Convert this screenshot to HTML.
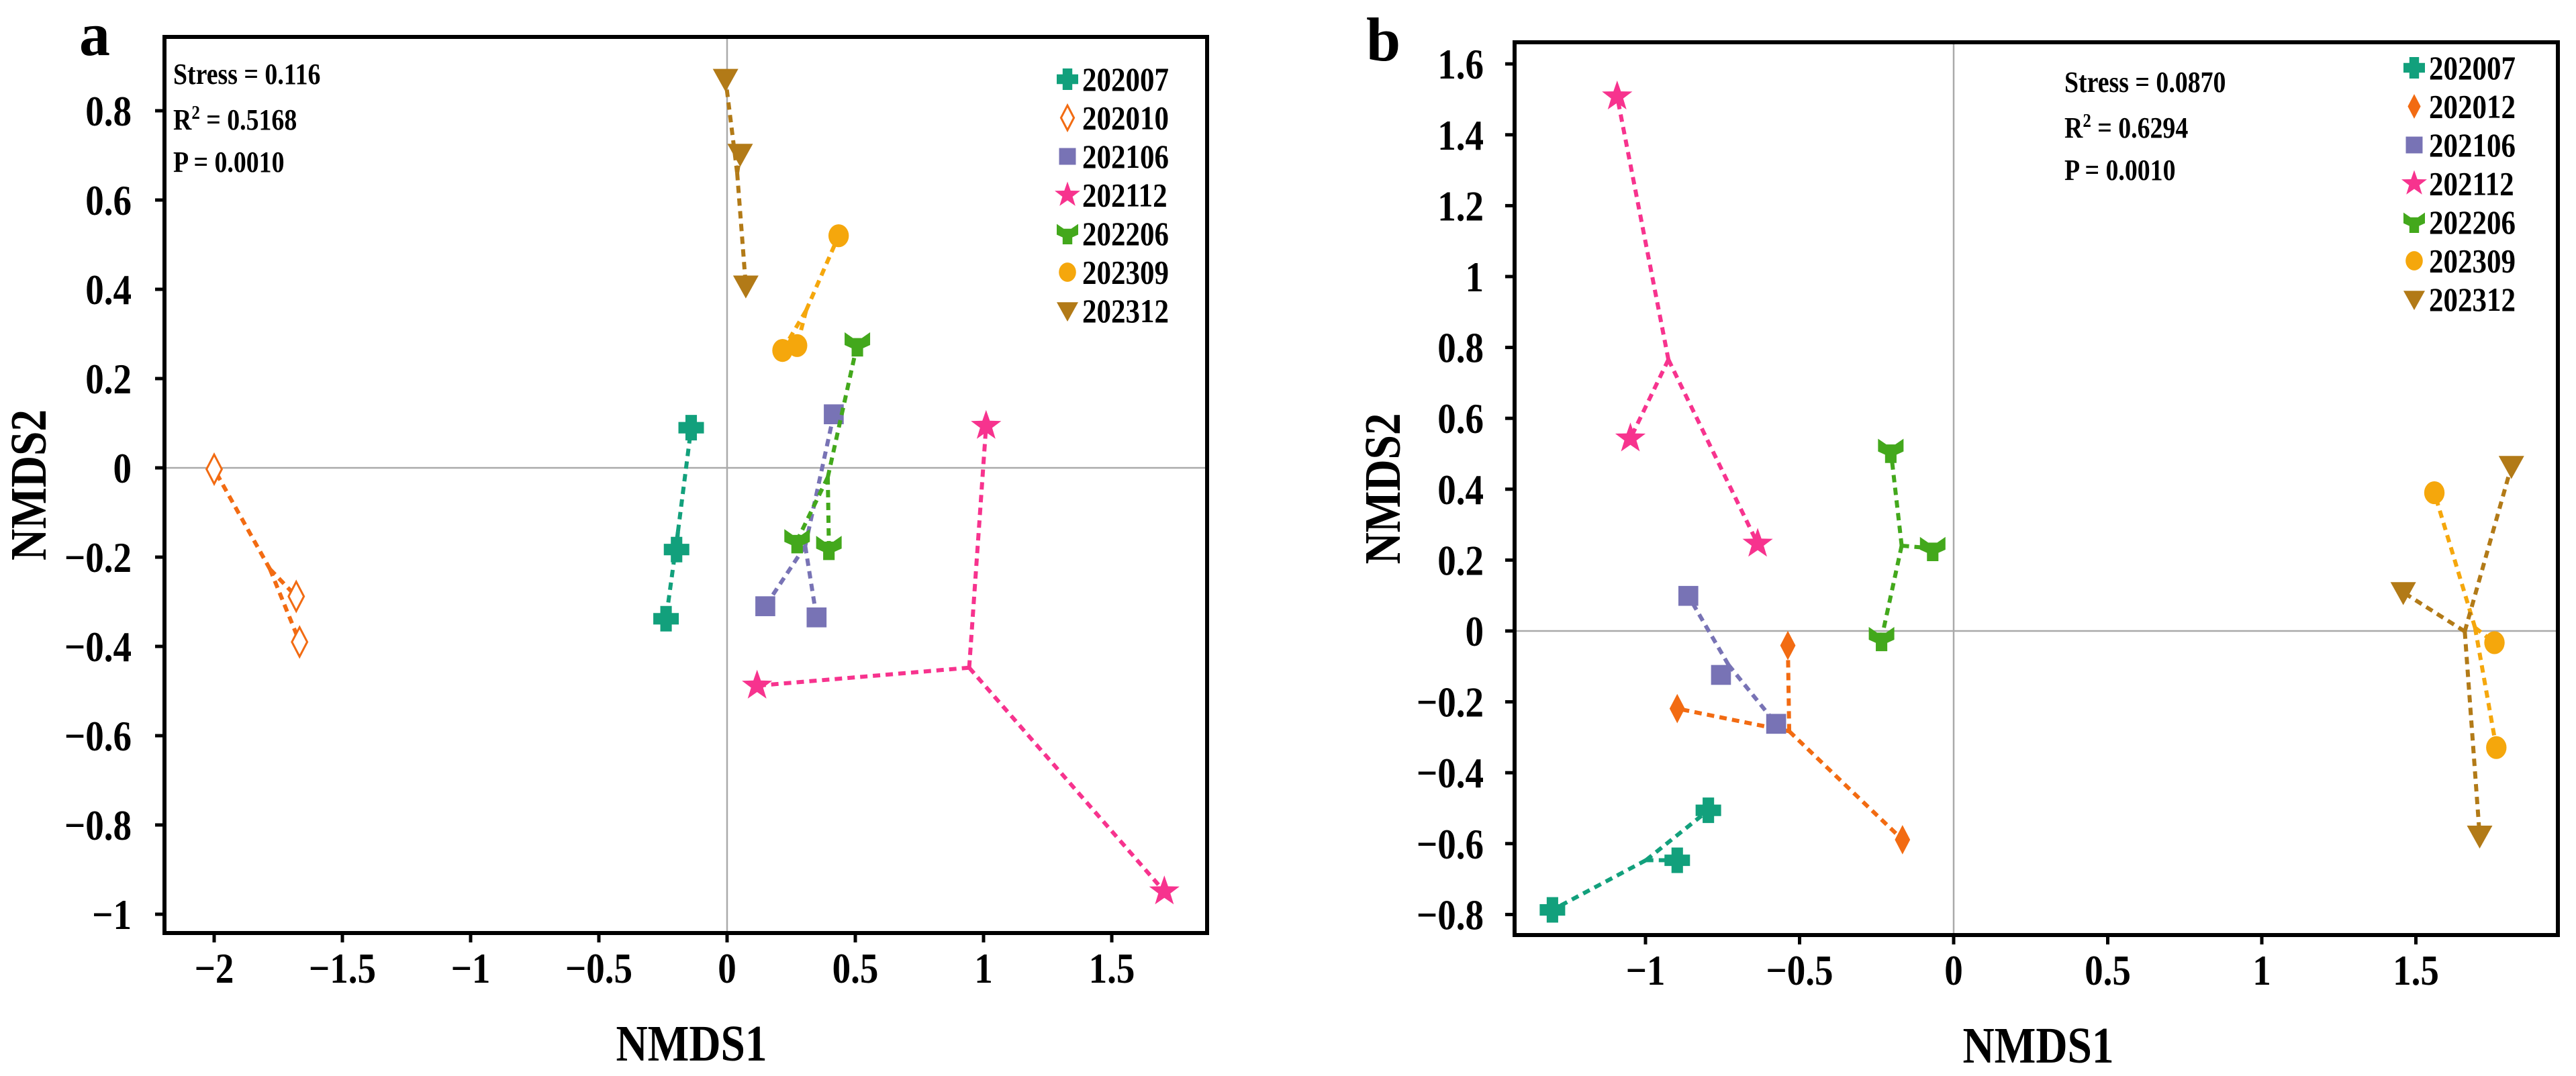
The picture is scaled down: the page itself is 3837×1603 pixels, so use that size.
<!DOCTYPE html>
<html><head><meta charset="utf-8"><style>
html,body{margin:0;padding:0;background:#fff;}
svg{display:block;font-family:"Liberation Serif",serif;font-weight:bold;}
</style></head><body>
<svg id="fig" width="3837" height="1603" viewBox="0 0 3837 1603" xmlns="http://www.w3.org/2000/svg"></svg>
<script>
// ---------- data ----------
const seriesNamesA = ["202007","202010","202106","202112","202206","202309","202312"];
const seriesNamesB = ["202007","202012","202106","202112","202206","202309","202312"];
const a202007X = [-0.14,-0.197,-0.238], a202007Y = [0.09,-0.183,-0.338];
const a202010X = [-2.0,-1.68,-1.667], a202010Y = [-0.003,-0.288,-0.39];
const a202106X = [0.416,0.149,0.349], a202106Y = [0.12,-0.31,-0.335];
const a202112X = [1.01,0.117,1.705], a202112Y = [0.094,-0.488,-0.949];
const a202206X = [0.508,0.273,0.397], a202206Y = [0.278,-0.163,-0.178];
const a202309X = [0.435,0.216,0.273], a202309Y = [0.52,0.263,0.274];
const a202312X = [-0.006,0.051,0.073], a202312Y = [0.871,0.703,0.408];
const b202007X = [-1.302,-0.897,-0.796], b202007Y = [-0.787,-0.647,-0.506];
const b202012X = [-0.538,-0.897,-0.166], b202012Y = [-0.041,-0.219,-0.589];
const b202106X = [-0.861,-0.755,-0.576], b202106Y = [0.099,-0.124,-0.262];
const b202112X = [-1.092,-1.049,-0.636], b202112Y = [1.508,0.543,0.246];
const b202206X = [-0.204,-0.068,-0.234], b202206Y = [0.51,0.233,-0.021];
const b202309X = [1.56,1.755,1.761], b202309Y = [0.39,-0.033,-0.329];
const b202312X = [1.81,1.459,1.707], b202312Y = [0.465,0.109,-0.578];
const xTicksA = [-2,-1.5,-1,-0.5,0,0.5,1,1.5];
const yTicksA = [-1,-0.8,-0.6,-0.4,-0.2,0,0.2,0.4,0.6,0.8];
const xTicksB = [-1,-0.5,0,0.5,1,1.5];
const yTicksB = [-0.8,-0.6,-0.4,-0.2,0,0.2,0.4,0.6,0.8,1,1.2,1.4,1.6];
const statsA = ["Stress = 0.116","0.5168","P = 0.0010"];
const statsB = ["Stress = 0.0870","0.6294","P = 0.0010"];

// ---------- styling ----------
const colors = {"202007":"#12a07c","202010":"#f26b12","202012":"#f26b12","202106":"#7873b5","202112":"#f7338e","202206":"#43a81c","202309":"#f5a70c","202312":"#b27a17"};
const shapes = {"202007":"cross","202010":"odiamond","202012":"diamond","202106":"square","202112":"star","202206":"tri","202309":"circle","202312":"tridown"};
const NS="http://www.w3.org/2000/svg";
const SX=0.86;
const svg=document.getElementById('fig');
function mk(tag,attrs,parent){const e=document.createElementNS(NS,tag);for(const k in attrs)e.setAttribute(k,attrs[k]);(parent||svg).appendChild(e);return e;}
function txt(parent,x,y,size,anchor,str){
  const e=mk('text',{x:0,y:0,'font-size':size,'text-anchor':anchor,fill:'#000',transform:`translate(${x},${y}) scale(${SX},1)`},parent);
  if(str!==undefined)e.textContent=str;
  return e;
}
const fmt=v=>(v<0?"\u2212":"")+String(Math.abs(v));

function marker(g,shape,cx,cy,col,s){
  let e;
  if(shape==="cross"){const w=s*0.45;e=mk('path',{d:`M${cx-w} ${cy-s}h${2*w}v${s-w}h${s-w}v${2*w}h${-(s-w)}v${s-w}h${-2*w}v${-(s-w)}h${-(s-w)}v${-2*w}h${s-w}z`,fill:col},g);}
  else if(shape==="diamond"||shape==="odiamond"){const w=s*0.6;e=mk('path',{d:`M${cx} ${cy-s*1.15}L${cx+w} ${cy}L${cx} ${cy+s*1.15}L${cx-w} ${cy}Z`,fill:shape==="diamond"?col:"#fff",stroke:shape==="diamond"?"none":col,'stroke-width':3},g);}
  else if(shape==="square"){e=mk('rect',{x:cx-s*0.78,y:cy-s*0.78,width:s*1.56,height:s*1.56,fill:col},g);}
  else if(shape==="circle"){e=mk('ellipse',{cx:cx,cy:cy,rx:s*0.8,ry:s*0.9,fill:col},g);}
  else if(shape==="tridown"){e=mk('path',{d:`M${cx-s} ${cy-s*0.8}L${cx+s} ${cy-s*0.8}L${cx} ${cy+s}Z`,fill:col},g);}
  else if(shape==="star"){let d="";for(let i=0;i<10;i++){const r=i%2?s*0.5:s*1.25;const a=-Math.PI/2+i*Math.PI/5;d+=(i?"L":"M")+(cx+r*Math.cos(a)).toFixed(1)+" "+(cy+r*Math.sin(a)).toFixed(1);}e=mk('path',{d:d+"Z",fill:col},g);}
  else if(shape==="tri"){e=mk('g',{},g);
    mk('path',{d:`M${cx-s} ${cy-s*0.9}L${cx-s*0.35} ${cy-s*0.45}L${cx+s*0.35} ${cy-s*0.45}L${cx+s} ${cy-s*0.9}L${cx+s} ${cy+s*0.1}L${cx+s*0.45} ${cy+s*0.35}L${cx+s*0.45} ${cy+s}L${cx-s*0.45} ${cy+s}L${cx-s*0.45} ${cy+s*0.35}L${cx-s} ${cy+s*0.1}Z`,fill:col},e);}
  return e;
}

function panel(cfg){
  const {id,left,top,right,bottom,x0,xu,y0,yu,xTicks,yTicks,series,names,stats,statPos,legX,legY,legDy,letter,letterPos,yLabX,xLabX,yTickRight}=cfg;
  const X=v=>x0+v*xu, Y=v=>y0-v*yu;
  const g=mk('g',{});
  
  
  const L=mk('text',{x:letterPos[0],y:letterPos[1],'font-size':92,fill:'#000'},g);L.textContent=letter;
  
  const zl=mk('line',{x1:left,x2:right,y1:Y(0),y2:Y(0),stroke:'#aaa','stroke-width':2.5},g);
  
  const zv=mk('line',{x1:X(0),x2:X(0),y1:top,y2:bottom,stroke:'#aaa','stroke-width':2.5},g);
  
  xTicks.forEach(t=>{
    mk('line',{x1:X(t),x2:X(t),y1:bottom,y2:bottom+14,stroke:'#000','stroke-width':5},g);
    const tx=txt(g,X(t),bottom+74,64,'middle',fmt(t));
    
  });
  yTicks.forEach(t=>{
    mk('line',{x1:left-14,x2:left,y1:Y(t),y2:Y(t),stroke:'#000','stroke-width':5},g);
    const tx=txt(g,yTickRight,Y(t)+22,64,'end',fmt(t));
    
  });
  const box=mk('rect',{x:left,y:top,width:right-left,height:bottom-top,fill:'none',stroke:'#000','stroke-width':6},g);
  
  const xl=txt(g,xLabX,bottom+190,76,'middle',"NMDS1");
  
  const yl=mk('text',{x:0,y:0,'font-size':76,'text-anchor':'middle',fill:'#000',transform:`translate(${yLabX},${(top+bottom)/2}) rotate(-90) scale(${SX},1)`},g);yl.textContent="NMDS2";
  
  names.forEach((n,i)=>{
    const xs=series[i][0], ys=series[i][1], col=colors[n];
    const cx=xs.reduce((a,b)=>a+b,0)/xs.length, cy=ys.reduce((a,b)=>a+b,0)/ys.length;
    const sg=mk('g',{},g);
    
    xs.forEach((x,j)=>{
      const ln=mk('line',{x1:X(cx),y1:Y(cy),x2:X(x),y2:Y(ys[j]),stroke:col,'stroke-width':6,'stroke-dasharray':'11 8'},sg);
      
    });
    xs.forEach((x,j)=>{
      const m=marker(sg,shapes[n],X(x),Y(ys[j]),col,19);
      
    });
    const ly=legY+i*legDy;
    const lm=marker(g,shapes[n],legX,ly,col,16);
    
    const lt=txt(g,legX+22,ly+17,50,'start',n);
    
  });
  const s1=txt(g,statPos[0],statPos[1],44,'start',stats[0]);
  
  const s2=txt(g,statPos[0],statPos[1]+68,44,'start');
  
  const t1=mk('tspan',{},s2);t1.textContent="R";
  const t2=mk('tspan',{dy:-16,'font-size':29},s2);t2.textContent="2";
  const t3=mk('tspan',{dy:16},s2);t3.textContent=" = "+stats[1];
  const s3=txt(g,statPos[0],statPos[1]+131,44,'start',stats[2]);
  
}

panel({id:'a',left:245,top:55,right:1798,bottom:1390,x0:1083,xu:382,y0:697,yu:665,
  xTicks:xTicksA,yTicks:yTicksA,names:seriesNamesA,
  series:[[a202007X,a202007Y],[a202010X,a202010Y],[a202106X,a202106Y],[a202112X,a202112Y],[a202206X,a202206Y],[a202309X,a202309Y],[a202312X,a202312Y]],
  stats:statsA,statPos:[258,125],legX:1590,legY:118,legDy:57.5,letter:'a',letterPos:[118,82],yLabX:68,xLabX:1030,yTickRight:196});
panel({id:'b',left:2256,top:63,right:3810,bottom:1393,x0:2910,xu:459,y0:940,yu:528,
  xTicks:xTicksB,yTicks:yTicksB,names:seriesNamesB,
  series:[[b202007X,b202007Y],[b202012X,b202012Y],[b202106X,b202106Y],[b202112X,b202112Y],[b202206X,b202206Y],[b202309X,b202309Y],[b202312X,b202312Y]],
  stats:statsB,statPos:[3075,137],legX:3596,legY:101,legDy:57.5,letter:'b',letterPos:[2035,90],yLabX:2085,xLabX:3036,yTickRight:2210});
</script>
</body></html>
